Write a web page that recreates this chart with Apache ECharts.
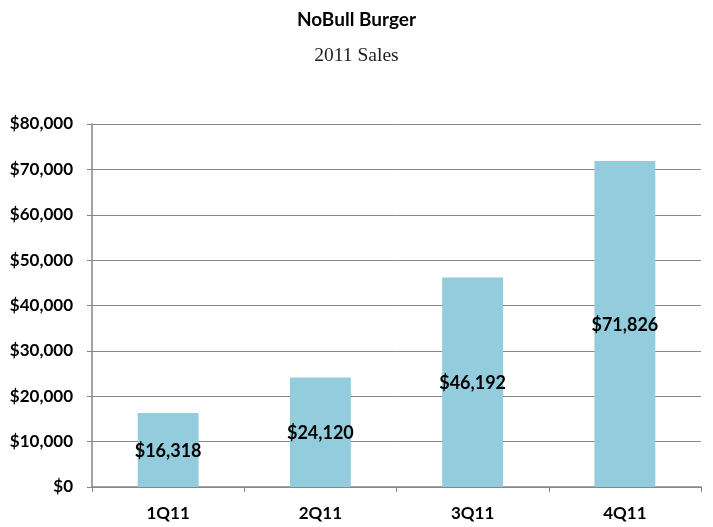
<!DOCTYPE html>
<html>
<head>
<meta charset="utf-8">
<script src="https://cdn.jsdelivr.net/npm/echarts@6/dist/echarts.min.js"></script>
<style>html,body{margin:0;padding:0;background:#fff;}#c{width:713px;height:527px;}</style>
</head>
<body>
<div id="c"></div>
<script>
const categories = ['1Q11', '2Q11', '3Q11', '4Q11'];
const sales = [16318, 24120, 46192, 71826];
const yTicks = { min: 0, max: 80000, interval: 10000 };

function money(v) {
  return '$' + Math.round(v).toString().replace(/\B(?=(\d{3})+(?!\d))/g, ',');
}

const chart = echarts.init(document.getElementById('c'), null, { renderer: 'canvas' });
chart.setOption({
  animation: false,
  backgroundColor: '#ffffff',
  title: [
    { text: 'NoBull Burger', left: 'center', top: 5,
      textStyle: { fontFamily: 'Lato', fontWeight: 'bold', fontSize: 19, color: '#000' } },
    { text: '2011 Sales', left: 'center', top: 41,
      textStyle: { fontFamily: 'Liberation Serif', fontWeight: 'normal', fontSize: 19.5, color: '#222' } }
  ],
  grid: { left: 92, right: 12, top: 124, bottom: 40, containLabel: false },
  xAxis: {
    type: 'category',
    data: categories,
    axisLine: { lineStyle: { color: '#868686', width: 1.5 } },
    axisTick: { show: true, alignWithLabel: false, length: 5, lineStyle: { color: '#868686' } },
    axisLabel: { fontFamily: 'Lato', fontWeight: 'bold', fontSize: 17, color: '#000', margin: 18 }
  },
  yAxis: {
    type: 'value',
    min: yTicks.min, max: yTicks.max, interval: yTicks.interval,
    axisLine: { show: true, lineStyle: { color: '#868686', width: 1.5 } },
    axisTick: { show: true, length: 5, lineStyle: { color: '#868686' } },
    splitLine: { lineStyle: { color: '#888888', width: 1 } },
    axisLabel: { fontFamily: 'Lato', fontWeight: 'bold', fontSize: 17, color: '#000', margin: 19,
      formatter: money }
  },
  series: [{
    type: 'bar',
    data: sales,
    barWidth: '40%',
    itemStyle: { color: '#93CDDD' },
    label: { show: true, position: 'inside', offset: [0, 1], formatter: p => money(p.value),
      fontFamily: 'Lato', fontWeight: 'bold', fontSize: 18, color: '#000' }
  }]
});
</script>
</body>
</html>
